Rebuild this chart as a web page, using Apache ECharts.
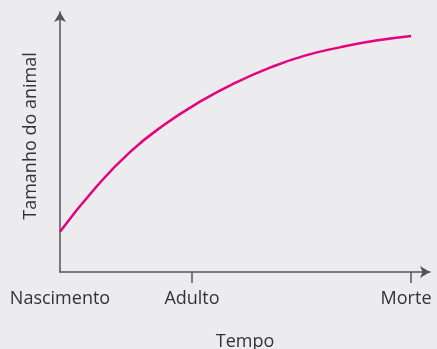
<!DOCTYPE html>
<html lang="pt">
<head>
    <meta charset="UTF-8">
    <title>Tamanho do animal</title>
    <script src="https://cdn.jsdelivr.net/npm/echarts@6.0.0/dist/echarts.min.js"></script>
    <style>
        html, body { margin: 0; padding: 0; background: #ececee; }
        #chart { width: 437px; height: 349px; }
    </style>
</head>
<body>
    <div id="chart"></div>
    <script>
        // pontos (tempo, tamanho)
        const tempo = [0, 10, 20, 30, 40, 50, 60, 70, 80, 90, 100];
        const tamanho = [15.5, 32.2, 46.2, 56.9, 65.6, 72.8, 78.7, 83.3, 86.5, 89.0, 90.8];
        // posições das fases no eixo do tempo
        const fasesValor = [0, 37.6, 100];
        const fasesNome = ['Nascimento', 'Adulto', 'Morte'];

        const chart = echarts.init(document.getElementById('chart'));
        const fonte = '"Open Sans", sans-serif';

        chart.setOption({
            backgroundColor: '#ececee',
            animation: false,
            grid: { left: 60, right: 7, top: 12, bottom: 77, outerBoundsMode: 'none' },
            xAxis: {
                type: 'value',
                min: 0,
                max: 105.4,
                name: 'Tempo',
                nameLocation: 'middle',
                nameGap: 61,
                nameTextStyle: { color: '#333', fontSize: 18, fontFamily: fonte },
                axisLine: {
                    lineStyle: { color: '#555', width: 1.5 },
                    symbol: ['none', 'arrow'],
                    symbolSize: [9, 10]
                },
                axisTick: {
                    customValues: [fasesValor[1], fasesValor[2]],
                    length: 11,
                    lineStyle: { color: '#555', width: 1.5 }
                },
                axisLabel: {
                    customValues: fasesValor,
                    margin: 18,
                    color: '#333',
                    fontSize: 18,
                    fontFamily: fonte,
                    formatter: v => {
                        const nome = fasesNome[fasesValor.indexOf(v)];
                        // o último rótulo fica um pouco à esquerda do tique
                        return v === fasesValor[2] ? '{fim|' + nome + '}' : nome;
                    },
                    rich: {
                        fim: { color: '#333', fontSize: 18, fontFamily: fonte, padding: [0, 10, 0, 0] }
                    }
                },
                splitLine: { show: false }
            },
            yAxis: {
                type: 'value',
                min: 0,
                max: 100,
                name: 'Tamanho do animal',
                nameLocation: 'middle',
                nameGap: 20,
                nameTextStyle: { color: '#333', fontSize: 18, fontFamily: fonte, padding: [0, 0, 0, 12] },
                axisLine: {
                    show: true,
                    lineStyle: { color: '#555', width: 1.5 },
                    symbol: ['none', 'arrow'],
                    symbolSize: [9, 10]
                },
                axisTick: { show: false },
                axisLabel: { show: false },
                splitLine: { show: false }
            },
            series: [{
                type: 'line',
                data: tempo.map((t, i) => [t, tamanho[i]]),
                smooth: true,
                symbol: 'none',
                lineStyle: { color: '#e6007e', width: 2.5 }
            }]
        });
    </script>
</body>
</html>
